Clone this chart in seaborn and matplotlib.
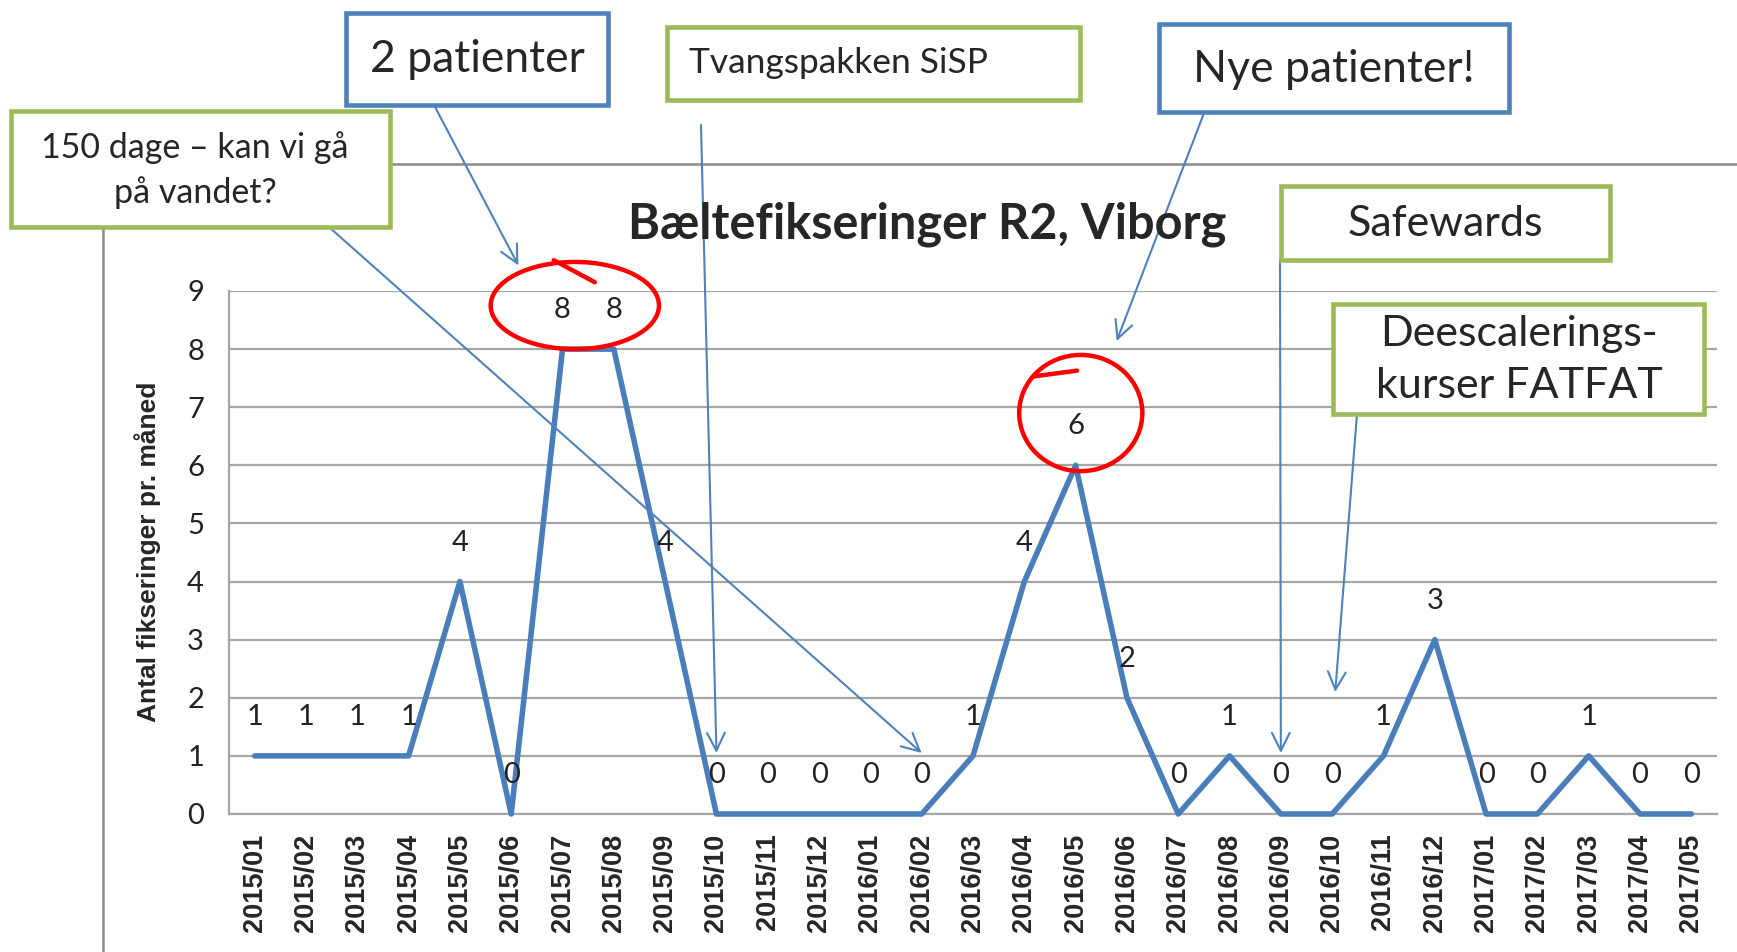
import matplotlib
matplotlib.use("Agg")
import matplotlib.pyplot as plt
from matplotlib.patches import Rectangle, Ellipse
import seaborn as sns
import pandas as pd

months = ["2015/01", "2015/02", "2015/03", "2015/04", "2015/05", "2015/06",
          "2015/07", "2015/08", "2015/09", "2015/10", "2015/11", "2015/12",
          "2016/01", "2016/02", "2016/03", "2016/04", "2016/05", "2016/06",
          "2016/07", "2016/08", "2016/09", "2016/10", "2016/11", "2016/12",
          "2017/01", "2017/02", "2017/03", "2017/04", "2017/05"]
counts = [1, 1, 1, 1, 4, 0, 8, 8, 4, 0, 0, 0,
          0, 0, 1, 4, 6, 2, 0, 1, 0, 0, 1, 3,
          0, 0, 1, 0, 0]
yticks = list(range(0, 10))

title = "Bæltefikseringer R2, Viborg"
ylabel = "Antal fikseringer pr. måned"

GREEN = "#9BBB59"
BLUE = "#4F81BD"
LINE = "#4A7EBB"

sns.set_style("white")
plt.rcParams['font.family'] = ['Lato', 'DejaVu Sans']

W, H = 1737, 952
fig = plt.figure(figsize=(W / 100, H / 100), dpi=100)
ax = fig.add_axes([229 / W, 1 - 814 / H, (1717 - 229) / W, (814 - 291) / H])

df = pd.DataFrame({"idx": range(len(months)), "month": months, "n": counts})
sns.lineplot(data=df, x="idx", y="n", ax=ax, color=LINE, lw=4, clip_on=False, zorder=3)

ax.set_xlim(-0.5, len(months) - 0.5)
ax.set_ylim(0, 9)
ax.set_yticks(yticks)
ax.set_xticks(df["idx"])
ax.set_xticklabels(months, rotation=90, fontfamily="Liberation Sans",
                   fontweight="bold", fontsize=19.5)
ax.tick_params(axis="x", length=0, pad=14)
ax.tick_params(axis="y", length=0, pad=18, labelsize=21, labelcolor="#222222")
ax.yaxis.grid(True, color="#a6a6a6", lw=1.6)
ax.set_axisbelow(True)
for s in ["top", "right"]:
    ax.spines[s].set_visible(False)
for s in ["left", "bottom"]:
    ax.spines[s].set_color("#a6a6a6")
    ax.spines[s].set_linewidth(1.6)
ax.set_xlabel("")
ax.set_ylabel(ylabel, fontfamily="Liberation Sans", fontweight="bold", fontsize=19)
ax.yaxis.set_label_coords((161 - 229) / (1717 - 229), (814 - 552) / (814 - 291))

# data labels above points
for i, v in enumerate(counts):
    ax.annotate(str(v), (i, v), xytext=(0, 28), textcoords="offset points",
                ha="center", va="center", fontsize=21, color="#222222",
                annotation_clip=False, zorder=4)

# outer chart frame
fig.add_artist(Rectangle((103 / W, -0.2), 2, (1 - 164 / H) + 0.2,
                         transform=fig.transFigure, fill=False,
                         ec="#8a8a8a", lw=1.8, zorder=0))

fig.text(927 / W, 1 - 224 / H, title, fontsize=35, fontweight="bold",
         ha="center", va="center")

# red hand-drawn circles
for (cx, cy, w, h) in [(6.24, 8.75, 3.28, 1.5), (16.1, 6.9, 2.4, 2.0)]:
    ax.add_patch(Ellipse((cx, cy), w, h, fill=False, ec="red", lw=3.2,
                         clip_on=False, zorder=5))
ax.plot([5.83, 6.63], [9.53, 9.15], color="red", lw=3.2, clip_on=False, zorder=5)
ax.plot([15.18, 16.03], [7.53, 7.63], color="red", lw=3.2, clip_on=False, zorder=5)

# annotation boxes: (x0, y0, x1, y1) in pixels from top-left
boxes = [
    ((11, 111, 390, 227), GREEN, "150 dage – kan vi gå\npå vandet?", 24.5, "center", 195, 170, 1.45),
    ((346, 13, 608, 105), BLUE, "2 patienter", 32, "center", 477, 59, 1.2),
    ((667, 27, 1080, 100), GREEN, "Tvangspakken SiSP", 25.5, "left", 689, 63, 1.2),
    ((1159, 24, 1509, 112), BLUE, "Nye patienter!", 32, "center", 1334, 69, 1.2),
    ((1281, 186, 1610, 260), GREEN, "Safewards", 31, "center", 1445, 224, 1.2),
    ((1333, 304, 1704, 414), GREEN, "Deescalerings-\nkurser FATFAT", 31, "center", 1519, 360, 1.45),
]
for (x0, y0, x1, y1), col, txt, fs, ha, tx, ty, ls in boxes:
    fig.add_artist(Rectangle((x0 / W, 1 - y1 / H), (x1 - x0) / W, (y1 - y0) / H,
                             transform=fig.transFigure, fc="white", ec=col,
                             lw=3.3, zorder=6))
    fig.text(tx / W, 1 - ty / H, txt, fontsize=fs, ha=ha, va="center",
             linespacing=ls, zorder=7)

# arrows: tip in data coords, tail in pixels from top-left
arrows = [
    ((13.0, 1.05), (329, 227)),
    ((5.14, 9.44), (434, 105)),
    ((9.0, 1.05), (701, 125)),
    ((16.8, 8.14), (1204, 113)),
    ((20.0, 1.05), (1280, 260)),
    ((21.06, 2.1), (1357, 414)),
]
for tip, (px, py) in arrows:
    ax.annotate("", xy=tip, xycoords="data", xytext=(px, H - py),
                textcoords="figure pixels", annotation_clip=False,
                arrowprops=dict(arrowstyle="->", color=BLUE, lw=1.5,
                                mutation_scale=32, shrinkA=0, shrinkB=0),
                zorder=5)

fig.savefig("out.png", dpi=100)
